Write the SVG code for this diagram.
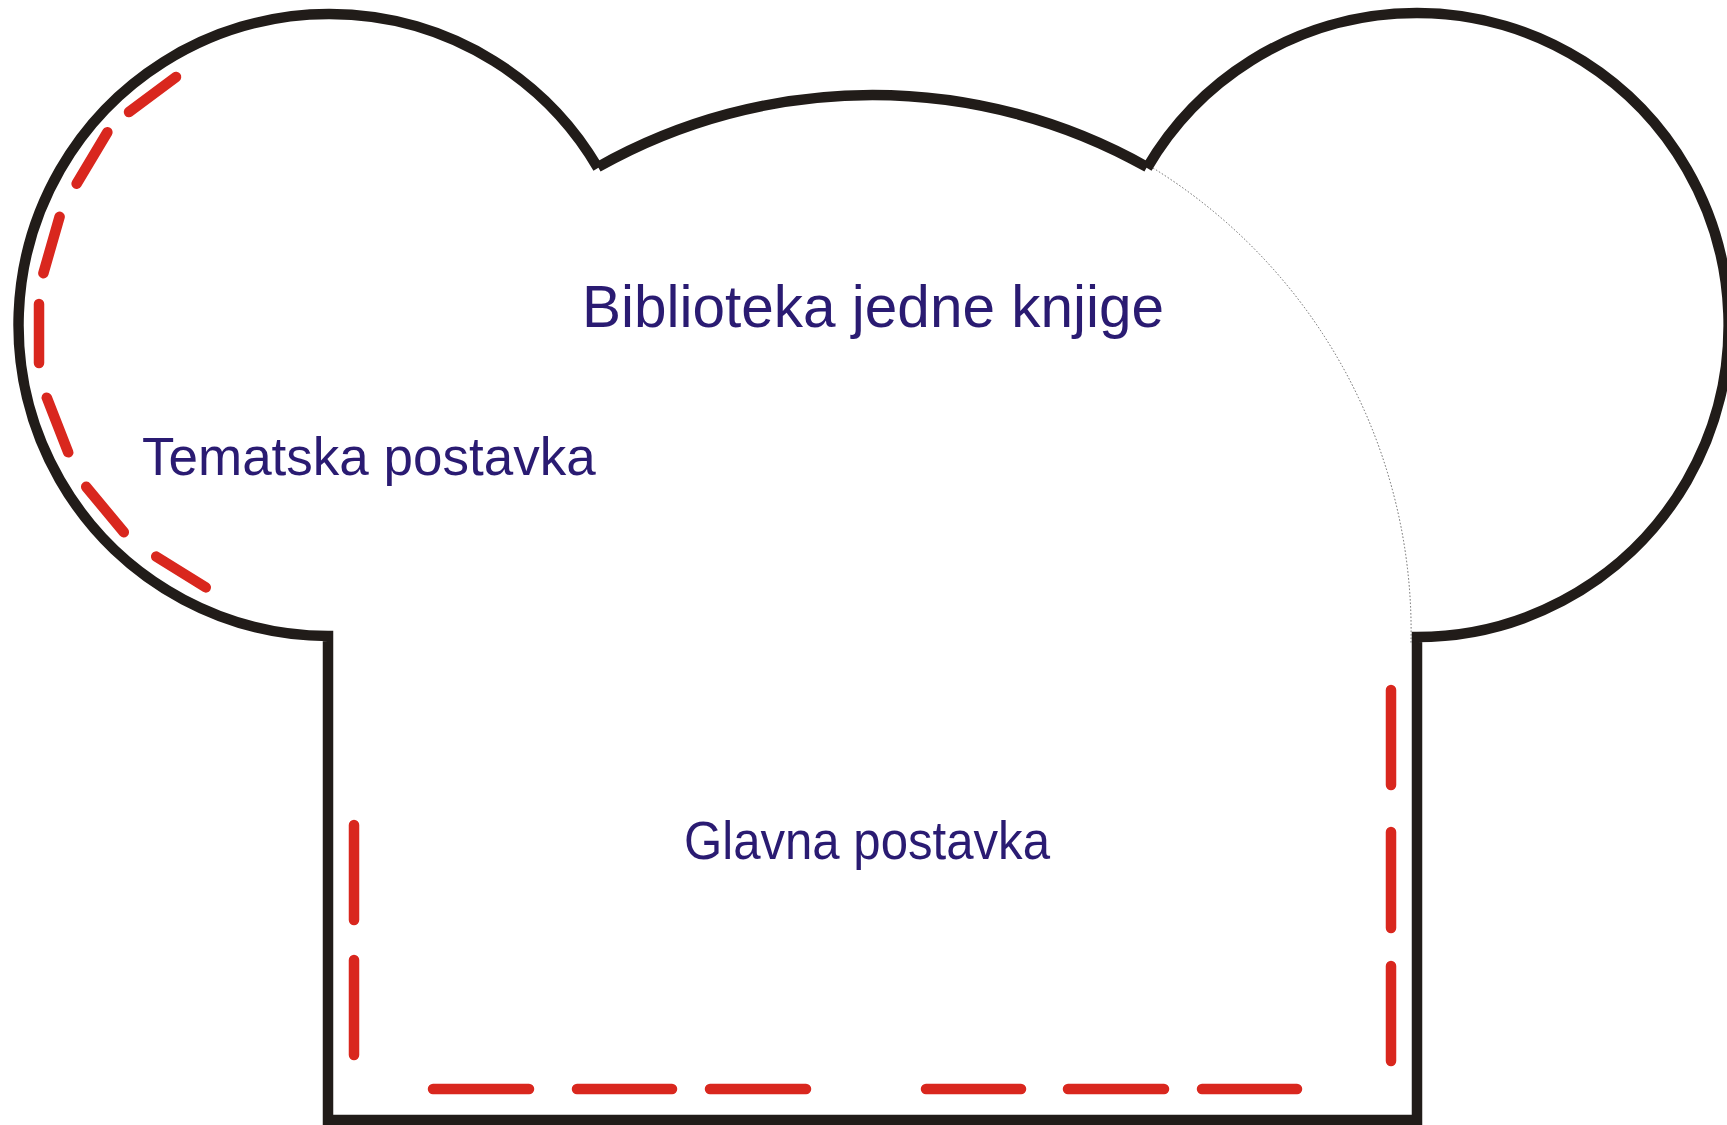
<svg xmlns="http://www.w3.org/2000/svg" width="1727" height="1125" viewBox="0 0 1727 1125">
  <style>
    .outline { fill: none; stroke: #211c19; stroke-width: 10.5; stroke-linecap: butt; stroke-linejoin: miter; }
    .guide { fill: none; stroke: #666; stroke-width: 1; stroke-dasharray: 1.5 2; }
    .zone { fill: none; stroke: #d9271e; stroke-width: 10.5; stroke-linecap: round; }
    .label { font-family: "Liberation Sans", Arial, sans-serif; fill: #2a1b72; }
  </style>
  <rect width="1727" height="1125" fill="#ffffff"/>
  <g id="building">
    <path class="outline" d="M 598 168 A 311 311 0 1 0 328 636 L 328 1120 L 1417 1120 L 1417 637 A 312 312 0 1 0 1147 168"/>
    <path class="outline" d="M 598 167 A 559 559 0 0 1 1147 167"/>
  </g>
  <g id="guide-arc">
    <path class="guide" d="M 1153 168 A 545 545 0 0 1 1411 643"/>
  </g>
  <g id="tematska-zone">
    <line class="zone" x1="176" y1="77" x2="129" y2="112"/>
    <line class="zone" x1="107.4" y1="132.3" x2="76.6" y2="183.7"/>
    <line class="zone" x1="59.6" y1="216.8" x2="43.4" y2="273.2"/>
    <line class="zone" x1="39" y1="304" x2="39" y2="363"/>
    <line class="zone" x1="46.8" y1="397.7" x2="68.2" y2="452.3"/>
    <line class="zone" x1="86.2" y1="486.8" x2="123.8" y2="532.2"/>
    <line class="zone" x1="156.2" y1="556.6" x2="205.8" y2="587.4"/>
  </g>
  <g id="glavna-zone">
    <line class="zone" x1="354" y1="825" x2="354" y2="920"/>
    <line class="zone" x1="354" y1="960" x2="354" y2="1055"/>
    <line class="zone" x1="433" y1="1089" x2="529" y2="1089"/>
    <line class="zone" x1="577" y1="1089" x2="672" y2="1089"/>
    <line class="zone" x1="710" y1="1089" x2="806" y2="1089"/>
    <line class="zone" x1="926" y1="1089" x2="1021" y2="1089"/>
    <line class="zone" x1="1068" y1="1089" x2="1164" y2="1089"/>
    <line class="zone" x1="1202" y1="1089" x2="1297" y2="1089"/>
    <line class="zone" x1="1391" y1="690" x2="1391" y2="785"/>
    <line class="zone" x1="1391" y1="832" x2="1391" y2="928"/>
    <line class="zone" x1="1391" y1="966" x2="1391" y2="1061"/>
  </g>
  <g id="labels">
    <text id="title" class="label" x="582" y="327" font-size="59" textLength="582" lengthAdjust="spacingAndGlyphs">Biblioteka jedne knjige</text>
    <text id="tematska" class="label" x="142" y="475" font-size="53">Tematska postavka</text>
    <text id="glavna" class="label" x="684" y="859" font-size="54" textLength="366" lengthAdjust="spacingAndGlyphs">Glavna postavka</text>
  </g>
</svg>
